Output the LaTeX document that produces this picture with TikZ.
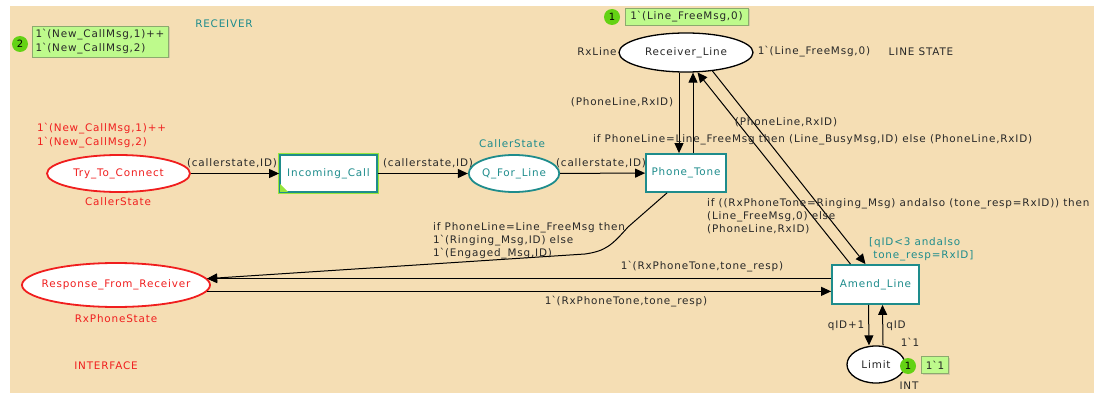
\documentclass[tikz,border=0pt]{standalone}
\usepackage{fontspec}
\setmainfont{DejaVu Sans}[LetterSpace=8]
\usetikzlibrary{shapes.geometric,arrows.meta,shadows}

\definecolor{cpnbg}{RGB}{245,222,180}
\definecolor{cpnteal}{RGB}{30,140,140}
\definecolor{cpnred}{RGB}{240,30,30}
\definecolor{cpntext}{RGB}{40,40,40}
\definecolor{markgreen}{RGB}{190,250,140}
\definecolor{markedge}{RGB}{140,170,110}
\definecolor{tokgreen}{RGB}{100,210,20}
\definecolor{enabled}{RGB}{150,230,60}

\newcommand{\grv}{\textasciigrave}

\tikzset{
  every node/.style={font=\fontsize{10.4}{13.2}\selectfont, text=cpntext},
  lbl/.style={inner sep=0pt},
  place/.style={ellipse, draw=black, line width=1.3pt, fill=white, inner sep=0pt},
  redplace/.style={place, draw=cpnred, line width=1.8pt, text=cpnred},
  tealplace/.style={place, draw=cpnteal, line width=1.8pt, text=cpnteal},
  trans/.style={rectangle, draw=cpnteal, line width=1.8pt, fill=white, text=cpnteal, inner sep=0pt},
  arc/.style={-{Triangle[length=10pt,width=9pt]}, line width=1pt},
  token/.style={circle, fill=tokgreen, inner sep=0pt, minimum size=16pt, text=black,
    font=\fontsize{10}{11}\selectfont},
  markbox/.style={rectangle, fill=markgreen, draw=markedge, line width=0.5pt, align=left,
    inner sep=2pt, drop shadow={shadow xshift=1.5pt, shadow yshift=-1.5pt, opacity=0.25}},
}

\begin{document}
\begin{tikzpicture}[x=1pt, y=-1pt]
  \useasboundingbox (0,0) rectangle (1094,393);
  \fill[cpnbg] (10,6) rectangle (1094,393);

  % page titles
  \node[lbl, text=cpnteal] (rcvtitle) at (224,24) {RECEIVER};
  \node[lbl, text=cpnred] (iftitle) at (106,366) {INTERFACE};

  % places
  \node[redplace, minimum width=143pt, minimum height=37pt] (try) at (118.5,173.5) {Try\_To\_Connect};
  \node[redplace, inner xsep=-8pt, minimum width=188pt, minimum height=44pt] (resp) at (116,285) {Response\_From\_Receiver};
  \node[tealplace, minimum width=78pt, minimum height=37pt] (qline) at (514,173.5) {Q\_For\_Line};
  \node[place, minimum width=134pt, minimum height=39pt] (rline) at (686,52.5) {Receiver\_Line};
  \node[place, minimum width=58pt, minimum height=37pt] (limit) at (876,364.5) {Limit};

  % transitions
  \node[trans, minimum width=97pt, minimum height=37pt,
    preaction={draw=enabled, line width=4.5pt}] (incall) at (328.5,173.5) {Incoming\_Call};
  \fill[enabled] (incall.south west) ++(1,-1) -- ++(8,0) -- ++(-8,-8) -- cycle;
  \node[trans, minimum width=80pt, minimum height=38pt] (ptone) at (686,173) {Phone\_Tone};
  \node[trans, minimum width=87pt, minimum height=39pt] (amend) at (875.5,284.5) {Amend\_Line};

  % colour sets and initial markings
  \node[lbl, text=cpnred] (trycs) at (118,202) {CallerState};
  \node[lbl, text=cpnred, align=left, anchor=west] (tryinit) at (37,135.5)
    {1\grv(New\_CallMsg,1)++\\1\grv(New\_CallMsg,2)};
  \node[lbl, text=cpnred] (respcs) at (116,319) {RxPhoneState};
  \node[lbl, text=cpnteal] (qcs) at (512,144) {CallerState};
  \node[lbl] (rlcs) at (597,52) {RxLine};
  \node[lbl] (rlinit) at (814,52) {1\grv(Line\_FreeMsg,0)};
  \node[lbl] (rlname) at (921,52) {LINE STATE};
  \node[lbl] (limcs) at (909,386) {INT};
  \node[lbl] (liminit) at (910,342) {1\grv1};

  % current markings
  \node[token] (tok2) at (20,44) {2};
  \node[markbox, minimum width=136pt, minimum height=31pt] (mark2) at (100,41.5)
    {1\grv(New\_CallMsg,1)++\\1\grv(New\_CallMsg,2)};
  \node[markbox, minimum width=123pt, minimum height=17pt] (markrl) at (686.5,16.5) {1\grv(Line\_FreeMsg,0)};
  \node[token] (tokrl) at (612,17) {1};
  \node[markbox, minimum width=27pt, minimum height=17pt] (marklim) at (935,365) {1\grv1};
  \node[token] (toklim) at (908,366) {1};

  % arcs
  \draw[arc] (try) -- (incall);
  \draw[arc] (incall) -- (qline);
  \draw[arc] (qline) -- (ptone);
  \draw[arc] ([xshift=-7pt]rline.south) -- ([xshift=-7pt]ptone.north);
  \draw[arc] ([xshift=7pt]ptone.north) -- ([xshift=7pt]rline.south);
  \draw[arc] ([xshift=-25pt]amend.north) -- (rline.-60);
  \draw[arc] (rline.-35) -- ([xshift=-10pt]amend.north);
  \draw[arc] ([xshift=-19pt]ptone.south) -- (628,227) .. controls (612,245) and (606,251) .. (585,254) -- (resp.4.5);
  \draw[arc] (resp.4.5 -| amend.west) -- (resp.4.5);
  \draw[arc] (resp.-4) -- (resp.-4 -| amend.west);
  \draw[arc] ([xshift=-7pt]amend.south) -- ([xshift=-7pt]limit.north);
  \draw[arc] ([xshift=7pt]limit.north) -- ([xshift=7pt]amend.south);

  % arc inscriptions and guard
  \node[lbl] (a1) at (232,163) {(callerstate,ID)};
  \node[lbl] (a2) at (428,163) {(callerstate,ID)};
  \node[lbl] (a3) at (601,163) {(callerstate,ID)};
  \node[lbl] (a4) at (622,102) {(PhoneLine,RxID)};
  \node[lbl, anchor=west] (a5) at (593,140)
    {if PhoneLine=Line\_FreeMsg then (Line\_BusyMsg,ID) else (PhoneLine,RxID)};
  \node[lbl] (a6) at (786,122) {(PhoneLine,RxID)};
  \node[lbl, align=left, anchor=west] (a7) at (707,216)
    {if ((RxPhoneTone=Ringing\_Msg) andalso (tone\_resp=RxID)) then\\(Line\_FreeMsg,0) else\\(PhoneLine,RxID)};
  \node[lbl, align=left, anchor=west] (a8) at (433,241)
    {if PhoneLine=Line\_FreeMsg then\\1\grv(Ringing\_Msg,ID) else\\1\grv(Engaged\_Msg,ID)};
  \node[lbl] (a9) at (702,267) {1\grv(RxPhoneTone,tone\_resp)};
  \node[lbl] (a10) at (626,302) {1\grv(RxPhoneTone,tone\_resp)};
  \node[lbl] (a11) at (846,326) {qID+1};
  \node[lbl] (a12) at (896,326) {qID};
  \node[lbl, text=cpnteal, align=left, anchor=west] (guard) at (869,249)
    {[qID<3 andalso\\\ tone\_resp=RxID]};
\end{tikzpicture}
\end{document}
